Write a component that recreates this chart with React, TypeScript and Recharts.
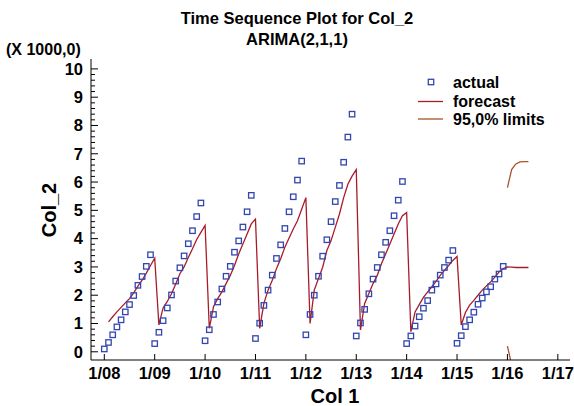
import React from 'react';
import { ComposedChart, Line, Scatter, XAxis, YAxis } from 'recharts';

// Monthly index t: 0 = 1/08 (January 2008)
const actual2008 = [0.1, 0.33, 0.6, 0.88, 1.13, 1.41, 1.67, 1.99, 2.35, 2.66, 3.02, 3.43];
const actual2009 = [0.29, 0.69, 1.1, 1.55, 2.01, 2.5, 2.97, 3.39, 3.82, 4.28, 4.78, 5.26];
const actual2010 = [0.39, 0.78, 1.32, 1.76, 2.22, 2.67, 3.02, 3.52, 3.92, 4.41, 4.95, 5.53];
const actual2011 = [0.47, 1.01, 1.64, 2.18, 2.71, 3.3, 3.78, 4.36, 4.95, 5.48, 6.07, 6.74];
const actual2012 = [0.6, 1.32, 2.0, 2.67, 3.38, 3.96, 4.6, 5.31, 5.88, 6.7, 7.59, 8.4];
const actual2013 = [0.56, 1.02, 1.5, 2.05, 2.57, 2.98, 3.43, 3.87, 4.28, 4.81, 5.36, 6.02];
const actual2014 = [0.29, 0.56, 0.91, 1.24, 1.54, 1.81, 2.18, 2.4, 2.71, 2.98, 3.24, 3.58];
const actual2015 = [0.3, 0.57, 0.89, 1.13, 1.4, 1.68, 1.9, 2.12, 2.3, 2.57, 2.75, 3.02];

// forecast starts at t = 1 (February 2008)
const forecastStart = 1;
const forecastValues = [
  1.06, 1.24, 1.41, 1.57, 1.73, 1.88, 2.08, 2.32, 2.53, 2.78, 3.05, 3.31,
  0.95, 1.55, 1.78, 2.05, 2.4, 2.76, 3.0, 3.33, 3.64, 3.97, 4.22, 4.47,
  0.83, 1.59, 1.88, 2.12, 2.41, 2.7, 3.05, 3.46, 3.81, 4.16, 4.52, 4.69,
  0.83, 1.71, 2.18, 2.53, 2.94, 3.29, 3.7, 4.02, 4.34, 4.63, 5.04, 5.45,
  1.0, 2.18, 2.59, 2.99, 3.58, 3.93, 4.4, 4.87, 5.45, 5.92, 6.21, 6.44,
  0.77, 1.71, 2.06, 2.41, 2.7, 3.11, 3.46, 3.81, 4.16, 4.52, 4.81, 4.92,
  0.71, 1.41, 1.67, 1.92, 2.12, 2.3, 2.49, 2.7, 2.88, 3.05, 3.23, 3.37,
  0.95, 1.39, 1.65, 1.82, 2.0, 2.18, 2.33, 2.47, 2.64, 2.82, 2.94, 3.0,
  2.99, 2.98, 2.98, 2.98, 2.98,
];

// 95% limits start at t = 96 (January 2016)
const limitsStart = 96;
const upperLimits = [5.8, 6.44, 6.64, 6.71, 6.72, 6.72];
const lowerLimits = [0.2, -0.46, -0.66, -0.73, -0.74, -0.74];

const xTickMonths = [0, 12, 24, 36, 48, 60, 72, 84, 96, 108];
const xTickLabels = ['1/08', '1/09', '1/10', '1/11', '1/12', '1/13', '1/14', '1/15', '1/16', '1/17'];
const yMajorTicks = [0, 1, 2, 3, 4, 5, 6, 7, 8, 9, 10];
const yMinorPerMajor = 5;

const actualValues = [
  ...actual2008, ...actual2009, ...actual2010, ...actual2011,
  ...actual2012, ...actual2013, ...actual2014, ...actual2015,
];
const actualData = actualValues.map((v, i) => ({ t: i, actual: v }));
const forecastData = forecastValues.map((v, i) => ({ t: forecastStart + i, forecast: v }));
const upperData = upperLimits.map((v, i) => ({ t: limitsStart + i, upper: v }));
const lowerData = lowerLimits.map((v, i) => ({ t: limitsStart + i, lower: v }));

const yAllTicks: number[] = [];
for (let i = 0; i < yMajorTicks.length - 1; i++) {
  for (let k = 0; k < yMinorPerMajor; k++) {
    yAllTicks.push(yMajorTicks[i] + (k * (yMajorTicks[i + 1] - yMajorTicks[i])) / yMinorPerMajor);
  }
}
yAllTicks.push(yMajorTicks[yMajorTicks.length - 1]);

const FONT = '"Liberation Sans", Arial, Helvetica, sans-serif';
const BLUE = '#3346b0';
const RED = '#a81c2a';
const BROWN = '#a4532a';

const isMajor = (v: number) => Math.abs(v - Math.round(v)) < 1e-6;

const LeftTick = (props: any) => {
  const { x, y, payload } = props;
  const v = payload.value;
  const axisX = x + 8;
  const major = isMajor(v);
  return (
    <g>
      <line x1={axisX} x2={axisX + (major ? 7 : 4)} y1={y} y2={y} stroke="#000" strokeWidth={1} />
      {major && (
        <text x={x} y={y} dy={5.8} textAnchor="end" fontFamily={FONT} fontWeight="bold" fontSize={16.5} fill="#000">
          {String(Math.round(v))}
        </text>
      )}
    </g>
  );
};

const RightTick = (props: any) => {
  const { x, y, payload } = props;
  const major = isMajor(payload.value);
  return <line x1={x} x2={x - (major ? 7 : 4)} y1={y} y2={y} stroke="#000" strokeWidth={1} />;
};

const BottomTick = (props: any) => {
  const { x, y, payload } = props;
  const axisY = y - 4;
  const idx = xTickMonths.indexOf(payload.value);
  return (
    <g>
      <line x1={x} x2={x} y1={axisY} y2={axisY - 6} stroke="#000" strokeWidth={1} />
      <text x={x} y={y} dy={14.5} textAnchor="middle" fontFamily={FONT} fontWeight="bold" fontSize={16.5} fill="#000">
        {idx >= 0 ? xTickLabels[idx] : ''}
      </text>
    </g>
  );
};

const TopTick = (props: any) => {
  const { x, y } = props;
  return <line x1={x} x2={x} y1={y} y2={y + 5} stroke="#000" strokeWidth={1} />;
};

const SquareShape = (props: any) => {
  const { cx, cy } = props;
  if (cx == null || cy == null) return null;
  return <rect x={cx - 2.7} y={cy - 2.7} width={5.4} height={5.4} fill="none" stroke={BLUE} strokeWidth={1.3} />;
};

const xDomain: [number, number] = [-3.17, 110.9];
const yDomain: [number, number] = [-0.29, 10.35];

export default function App() {
  return (
    <div style={{ position: 'absolute', left: 0, top: 0, width: 574, height: 406, background: '#fff' }}>
      <ComposedChart width={574} height={406} margin={{ top: 59, right: 4, bottom: 0, left: 0 }}>
        <XAxis
          xAxisId="b"
          type="number"
          dataKey="t"
          domain={xDomain}
          allowDataOverflow
          ticks={xTickMonths}
          interval={0}
          height={46}
          tickSize={0}
          tickMargin={4}
          tick={<BottomTick />}
          axisLine={{ stroke: '#000' }}
        />
        <XAxis
          xAxisId="top"
          orientation="top"
          type="number"
          dataKey="t"
          domain={xDomain}
          allowDataOverflow
          ticks={xTickMonths}
          interval={0}
          height={0}
          tickSize={0}
          tickMargin={0}
          tick={<TopTick />}
          axisLine={{ stroke: '#000' }}
        />
        <YAxis
          yAxisId="l"
          type="number"
          domain={yDomain}
          allowDataOverflow
          ticks={yAllTicks}
          interval={0}
          width={91}
          tickSize={0}
          tickMargin={8}
          tick={<LeftTick />}
          axisLine={{ stroke: '#000' }}
        />
        <YAxis
          yAxisId="r"
          orientation="right"
          type="number"
          domain={yDomain}
          allowDataOverflow
          ticks={yAllTicks}
          interval={0}
          width={0}
          tickSize={0}
          tickMargin={0}
          tick={<RightTick />}
          axisLine={{ stroke: '#000' }}
        />
        <Line
          xAxisId="b"
          yAxisId="l"
          data={forecastData}
          dataKey="forecast"
          type="linear"
          stroke={RED}
          strokeWidth={1.3}
          dot={false}
          isAnimationActive={false}
        />
        <Line
          xAxisId="b"
          yAxisId="l"
          data={upperData}
          dataKey="upper"
          type="linear"
          stroke={BROWN}
          strokeWidth={1.3}
          dot={false}
          isAnimationActive={false}
        />
        <Line
          xAxisId="b"
          yAxisId="l"
          data={lowerData}
          dataKey="lower"
          type="linear"
          stroke={BROWN}
          strokeWidth={1.3}
          dot={false}
          isAnimationActive={false}
        />
        <Scatter
          xAxisId="b"
          yAxisId="l"
          data={actualData}
          dataKey="actual"
          shape={<SquareShape />}
          isAnimationActive={false}
        />
      </ComposedChart>
      <svg width={574} height={406} style={{ position: 'absolute', left: 0, top: 0, pointerEvents: 'none' }}>
        <g fontFamily={FONT} fontWeight="bold" fill="#000">
          <text x={297} y={24} textAnchor="middle" fontSize={16.5}>Time Sequence Plot for Col_2</text>
          <text x={297} y={45} textAnchor="middle" fontSize={16.5}>ARIMA(2,1,1)</text>
          <text x={6} y={55} fontSize={16}>(X 1000,0)</text>
          <text x={0} y={0} transform="translate(56,210) rotate(-90)" textAnchor="middle" fontSize={20}>Col_2</text>
          <text x={335} y={403} textAnchor="middle" fontSize={20}>Col  1</text>
          <rect x={428.3} y={79.3} width={5.4} height={5.4} fill="none" stroke={BLUE} strokeWidth={1.3} />
          <text x={453} y={87.5} fontSize={16}>actual</text>
          <line x1={418} x2={443} y1={101.5} y2={101.5} stroke={RED} strokeWidth={1.3} />
          <text x={453} y={106.5} fontSize={16}>forecast</text>
          <line x1={418} x2={443} y1={119} y2={119} stroke={BROWN} strokeWidth={1.3} />
          <text x={453} y={124.5} fontSize={16}>95,0% limits</text>
        </g>
      </svg>
    </div>
  );
}
